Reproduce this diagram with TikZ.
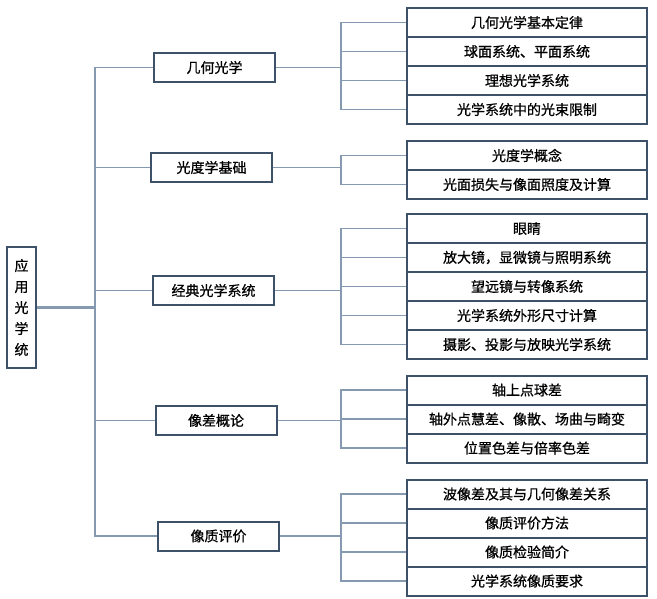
\documentclass[tikz,border=0pt]{standalone}
\usepackage{fontspec}
\setmainfont{Noto Sans CJK SC}[BoldFont=Noto Sans CJK SC, BoldFeatures={FakeBold=0.7}]
\definecolor{boxc}{HTML}{3D5168}
\definecolor{linec}{HTML}{8599B0}
\begin{document}
\begin{tikzpicture}[x=1pt,y=-1pt,
  every node/.style={font=\fontsize{14}{21}\selectfont\bfseries, inner sep=0pt, text=black},
  box/.style={draw=boxc, line width=2pt, fill=white},
  leaf/.style={box, minimum width=240pt, minimum height=29pt},
  mid/.style={box, minimum width=121pt, minimum height=29pt},
  conn/.style={draw=linec, line width=1.5pt},
  rootconn/.style={draw=linec, line width=2.8pt}]
\useasboundingbox (0,0) rectangle (657,599);
% bus coordinates
\coordinate (trunk) at (95,0);
\coordinate (bus) at (341,0);
% root
\node[box, minimum width=29pt, minimum height=121pt, align=center] (root) at (21.5,307.5) {应\\用\\光\\学\\统};
% level 1
\node[mid] (a) at (214.5,67.5) {几何光学};
\node[mid] (b) at (211.5,167.5) {光度学基础};
\node[mid] (c) at (213.5,290.5) {经典光学系统};
\node[mid] (d) at (216,420.5) {像差概论};
\node[mid] (e) at (218.5,536) {像质评价};
% group 1
\node[leaf] (a1) at (527,22.5) {几何光学基本定律};
\node[leaf] (a2) at (527,51.5) {球面系统、平面系统};
\node[leaf] (a3) at (527,80.5) {理想光学系统};
\node[leaf] (a4) at (527,109.5) {光学系统中的光束限制};
% group 2
\node[leaf] (b1) at (527,155.5) {光度学概念};
\node[leaf] (b2) at (527,184.5) {光面损失与像面照度及计算};
% group 3
\node[leaf] (c1) at (527,228.5) {眼睛};
\node[leaf] (c2) at (527,257.5) {放大镜，显微镜与照明系统};
\node[leaf] (c3) at (527,286.5) {望远镜与转像系统};
\node[leaf] (c4) at (527,315.5) {光学系统外形尺寸计算};
\node[leaf] (c5) at (527,344.5) {摄影、投影与放映光学系统};
% group 4
\node[leaf] (d1) at (527,390) {轴上点球差};
\node[leaf] (d2) at (527,419) {轴外点慧差、像散、场曲与畸变};
\node[leaf] (d3) at (527,448) {位置色差与倍率色差};
% group 5
\node[leaf] (e1) at (527,494) {波像差及其与几何像差关系};
\node[leaf] (e2) at (527,523) {像质评价方法};
\node[leaf] (e3) at (527,552) {像质检验简介};
\node[leaf] (e4) at (527,581) {光学系统像质要求};
% connectors
\draw[rootconn] (root.east) -- (root.east -| trunk);
\foreach \n in {a,b,c,d,e}{
  \draw[conn] (root.east -| trunk) |- (\n.west);
}
\foreach \p/\kids in {a/{a1,a2,a3,a4}, b/{b1,b2}, c/{c1,c2,c3,c4,c5}, d/{d1,d2,d3}, e/{e1,e2,e3,e4}}{
  \foreach \k in \kids {
    \draw[conn] (\p.east) -- (\p.east -| bus) |- (\k.west);
  }
}
\end{tikzpicture}
\end{document}
